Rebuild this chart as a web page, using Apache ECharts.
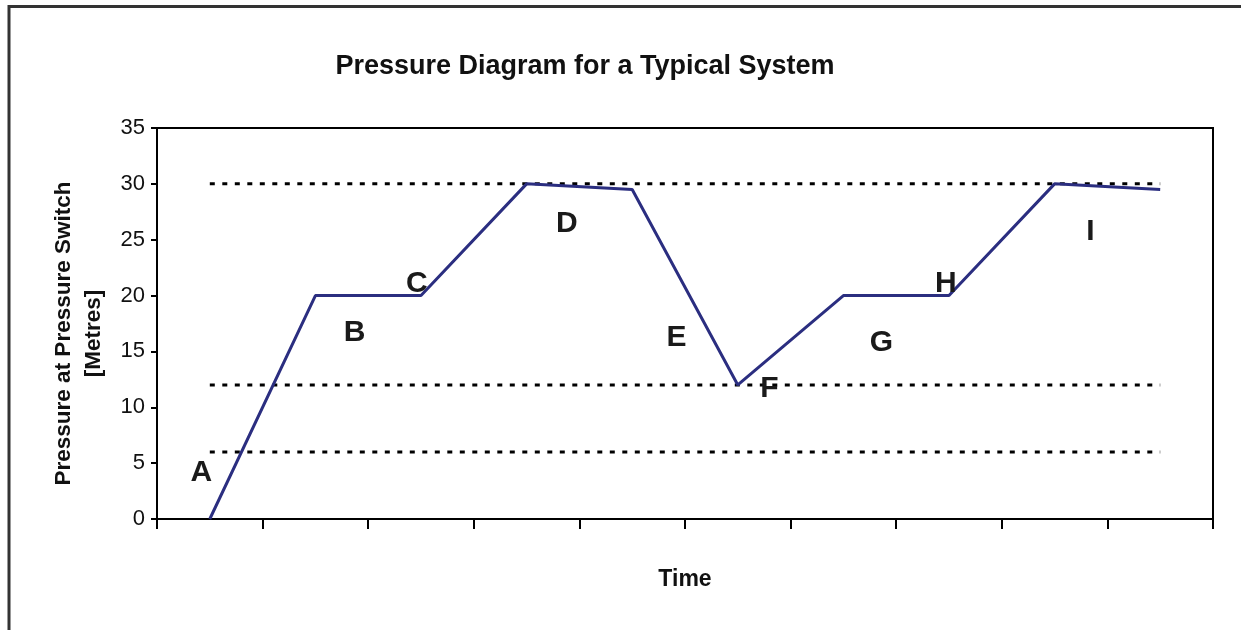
<!DOCTYPE html>
<html>
<head>
<meta charset="utf-8">
<title>Pressure Diagram</title>
<script src="https://cdn.jsdelivr.net/npm/echarts@6/dist/echarts.min.js"></script>
<style>
  html, body { margin: 0; padding: 0; background: #fff; }
  #chart { width: 1241px; height: 630px; }
</style>
</head>
<body>
<div id="chart"></div>
<script>
// time positions (centre of each interval) and pressure at the switch
const timeSteps = [0.5, 1.5, 2.5, 3.5, 4.5, 5.5, 6.5, 7.5, 8.5, 9.5]
const pressure = [0, 20, 20, 30, 29.5, 12, 20, 20, 30, 29.5]
// dotted reference levels
const switchLevels = [30, 12, 6]
// phase letters
const phaseNames = ['A', 'B', 'C', 'D', 'E', 'F', 'G', 'H', 'I']
const phaseX = [0.42, 1.87, 2.46, 3.88, 4.92, 5.8, 6.86, 7.47, 8.84]
const phaseY = [4.1, 16.7, 21.1, 26.4, 16.2, 11.7, 15.8, 21.1, 25.7]
const yTicks = [0, 5, 10, 15, 20, 25, 30, 35]

const chart = echarts.init(document.getElementById('chart'))
const fontFamily = 'Liberation Sans, Arial, sans-serif'

const levelSeries = switchLevels.map(level => {
  return {
    type: 'line',
    silent: true,
    symbol: 'none',
    lineStyle: { color: '#000', width: 3, type: [5, 7.5] },
    data: [[timeSteps[0], level], [timeSteps[timeSteps.length - 1], level]],
    z: 2
  }
})

const option = {
  backgroundColor: '#fff',
  animation: false,
  title: {
    text: 'Pressure Diagram for a Typical System',
    left: 580,
    top: 48,
    textAlign: 'center',
    textStyle: { fontFamily, fontSize: 27, fontWeight: 'bold', color: '#111' }
  },
  graphic: [
    {
      type: 'rect',
      shape: { x: 9, y: 6.5, width: 1300, height: 700 },
      style: { fill: null, stroke: '#333', lineWidth: 3 },
      silent: true
    }
  ],
  grid: {
    left: 157,
    right: 28,
    top: 128,
    bottom: 111,
    show: true,
    borderColor: '#000',
    borderWidth: 2
  },
  xAxis: {
    type: 'value',
    min: 0,
    max: 10,
    interval: 1,
    name: 'Time',
    nameLocation: 'middle',
    nameGap: 49,
    nameTextStyle: { fontFamily, fontSize: 23, fontWeight: 'bold', color: '#111' },
    axisLine: { lineStyle: { color: '#000', width: 2 } },
    axisTick: { show: true, length: 10, lineStyle: { color: '#000', width: 2 } },
    axisLabel: { show: false },
    splitLine: { show: false }
  },
  yAxis: {
    type: 'value',
    min: yTicks[0],
    max: yTicks[yTicks.length - 1],
    interval: 5,
    name: 'Pressure at Pressure Switch\n[Metres]',
    nameLocation: 'middle',
    nameRotate: 90,
    nameGap: 48,
    nameTextStyle: {
      fontFamily,
      fontSize: 22.5,
      fontWeight: 'bold',
      color: '#111',
      lineHeight: 30,
      padding: [0, 20, 0, 0]
    },
    axisLine: { show: true, lineStyle: { color: '#000', width: 2 } },
    axisTick: { show: true, length: 6, lineStyle: { color: '#000', width: 2 } },
    axisLabel: { fontFamily, fontSize: 22, color: '#111', margin: 12 },
    splitLine: { show: false }
  },
  series: [
    ...levelSeries,
    {
      name: 'pressure',
      type: 'line',
      symbol: 'none',
      lineStyle: { color: '#2b2e80', width: 3 },
      data: timeSteps.map((t, i) => [t, pressure[i]]),
      z: 3
    },
    {
      name: 'phases',
      type: 'scatter',
      symbolSize: 0,
      silent: true,
      itemStyle: { color: 'rgba(0,0,0,0)', opacity: 1 },
      emphasis: { disabled: true },
      label: {
        show: true,
        position: 'inside',
        formatter: p => p.data[2],
        fontFamily,
        fontSize: 30,
        fontWeight: 'bold',
        color: '#1a1a1a',
        opacity: 1,
        textBorderWidth: 0
      },
      data: phaseNames.map((n, i) => [phaseX[i], phaseY[i], n]),
      z: 4
    }
  ]
}

chart.setOption(option)
</script>
</body>
</html>
